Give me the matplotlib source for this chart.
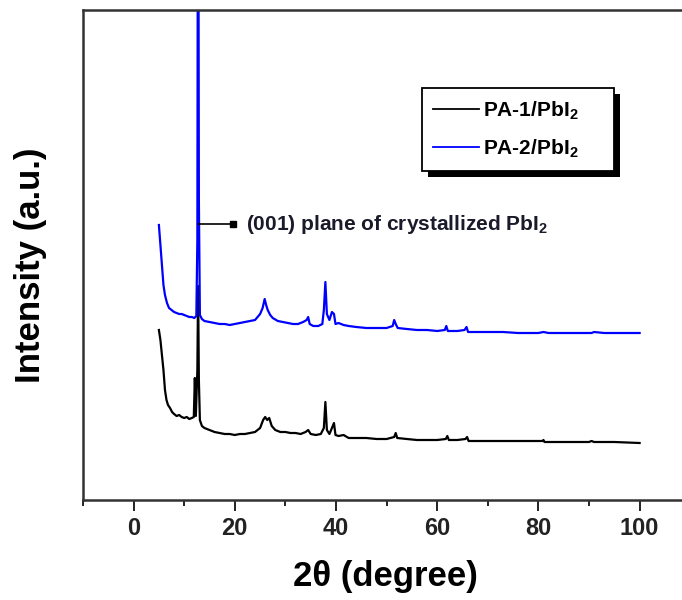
import matplotlib
matplotlib.use("Agg")
import matplotlib.pyplot as plt
from matplotlib.patches import Rectangle
from matplotlib.transforms import IdentityTransform
from matplotlib.ticker import MultipleLocator

plt.rcParams['font.family'] = ['Liberation Sans', 'DejaVu Sans']
plt.rcParams['font.weight'] = 'bold'
plt.rcParams['mathtext.fontset'] = 'custom'
plt.rcParams['mathtext.rm'] = 'Liberation Sans:bold'
plt.rcParams['mathtext.bf'] = 'Liberation Sans:bold'
plt.rcParams['mathtext.it'] = 'Liberation Sans:bold'

# XRD patterns (2-theta in degrees, intensity in arbitrary units, stacked)
tt_pa1 = [5.0, 5.3, 5.6, 5.9, 6.2, 6.5, 6.8, 7.2, 7.6, 8.0, 8.5, 9.0, 9.5, 10.0,
          10.5, 11.0, 11.5, 11.9, 12.1, 12.3, 12.6, 12.75, 12.9, 13.1, 13.5, 14.0,
          15.0, 16.0, 17.0, 18.0, 19.0, 20.0, 21.0, 22.0, 23.0, 24.0, 25.0, 25.6,
          26.0, 26.4, 26.8, 27.3, 28.0, 29.0, 30.0, 31.0, 32.0, 33.0, 34.0, 34.5,
          35.0, 36.0, 37.0, 37.6, 37.9, 38.2, 38.7, 39.2, 39.6, 39.9, 40.5, 41.5,
          42.5, 44.0, 46.0, 48.0, 50.0, 51.5, 51.8, 52.1, 54.0, 56.0, 58.0, 60.0,
          61.7, 62.0, 62.3, 64.0, 65.6, 65.9, 66.2, 68.0, 70.0, 72.0, 75.0, 78.0,
          80.8, 81.0, 81.2, 85.0, 90.0, 90.5, 91.0, 95.0, 100.0]
int_pa1 = [170, 160, 145, 130, 110, 100, 95, 92, 88, 86, 84, 85, 83, 82,
           83, 81, 82, 83, 122, 84, 130, 214, 120, 80, 74, 72,
           70, 68, 67, 66, 66, 65, 66, 66, 67, 68, 72, 80,
           83, 80, 82, 74, 70, 68, 68, 67, 67, 66, 68, 70,
           66, 65, 66, 72, 98, 70, 66, 72, 77, 65, 64, 65,
           62, 62, 62, 61, 61, 63, 67, 62, 61, 60, 60, 60,
           61, 64, 60, 60, 61, 63, 59, 59, 59, 59, 59, 59,
           59, 60, 58, 58, 58, 59, 58, 58, 57]

tt_pa2 = [5.0, 5.3, 5.6, 5.9, 6.2, 6.6, 7.0, 7.5, 8.0, 8.5, 9.0, 9.5, 10.0, 10.5,
          11.0, 11.5, 12.0, 12.4, 12.6, 12.75, 12.9, 13.1, 13.5, 14.0, 15.0, 16.0,
          17.0, 18.0, 19.0, 20.0, 21.0, 22.0, 23.0, 24.0, 25.0, 25.5, 25.9, 26.2,
          26.5, 27.0, 27.5, 28.5, 29.5, 30.5, 31.5, 32.5, 33.5, 34.2, 34.5, 34.8,
          35.5, 36.5, 37.3, 37.6, 37.9, 38.2, 38.7, 39.2, 39.6, 39.9, 40.5, 41.5,
          42.5, 44.0, 46.0, 48.0, 50.0, 51.2, 51.5, 51.8, 52.2, 54.0, 56.0, 58.0,
          60.0, 61.5, 61.8, 62.1, 64.0, 65.4, 65.8, 66.1, 68.0, 70.0, 73.0, 76.0,
          80.0, 81.0, 82.0, 85.0, 88.0, 90.5, 91.0, 93.0, 96.0, 100.0]
int_pa2 = [275, 255, 235, 215, 205, 197, 192, 190, 188, 187, 186, 186, 185, 184,
           183, 183, 182, 184, 260, 800, 300, 185, 181, 179, 178, 177,
           176, 176, 175, 176, 177, 178, 179, 180, 186, 192, 201, 195,
           190, 185, 182, 179, 178, 177, 176, 176, 178, 180, 183, 176,
           174, 174, 176, 190, 218, 186, 180, 188, 186, 176, 177, 175,
           174, 173, 172, 172, 172, 174, 180, 176, 172, 171, 170, 170,
           169, 170, 174, 169, 169, 170, 173, 168, 168, 168, 168, 167,
           167, 168, 167, 167, 167, 167, 168, 167, 167, 167]

series_labels = [r"PA-1/PbI$_{\mathbf{2}}$", r"PA-2/PbI$_{\mathbf{2}}$"]
series_colors = ["black", "#0000ff"]
x_ticks = [0, 20, 40, 60, 80, 100]
peak_note = r"(001) plane of crystallized PbI$_{\mathbf{2}}$"

W, H = 682, 600
fig = plt.figure(figsize=(W / 100, H / 100), dpi=100)
x_lo, x_hi = -10, 110
px_per_unit = 5.06
ax_w = (x_hi - x_lo) * px_per_unit / W
ax_wpx = ax_w * W
ax = fig.add_axes([83 / W, 100 / H, ax_w, 490 / H])

ax.plot(tt_pa1, int_pa1, color=series_colors[0], lw=1.6, label=series_labels[0])
ax.plot(tt_pa2, int_pa2, color=series_colors[1], lw=1.6, label=series_labels[1])

ax.set_xlim(x_lo, x_hi)
ax.set_ylim(0, 490)
ax.set_xticks(x_ticks)
ax.xaxis.set_minor_locator(MultipleLocator(10))
ax.set_yticks([])
ax.tick_params(axis='x', which='major', direction='out', length=8, width=1.4,
               labelsize=17, pad=4, colors='#222222')
ax.tick_params(axis='x', which='minor', direction='out', length=4, width=1.4,
               colors='#222222')
for lab in ax.get_xticklabels():
    lab.set_fontweight('bold')
for side in ['left', 'top', 'bottom']:
    ax.spines[side].set_linewidth(1.8)
    ax.spines[side].set_color('#333333')
ax.spines['right'].set_visible(False)

ax.set_xlabel(r"2θ (degree)", fontsize=25, fontweight='bold')
ax.xaxis.set_label_coords((385 - 83) / ax_wpx, -0.122)
ax.set_ylabel("Intensity (a.u.)", fontsize=25, fontweight='bold')
ax.yaxis.set_label_coords(-(83 - 47) / ax_wpx, 0.48)

# annotation of the (001) reflection
ax.annotate('', xy=(19.6, 276), xytext=(12.8, 276),
            arrowprops=dict(arrowstyle='-', lw=1.2, color='black',
                            shrinkA=0, shrinkB=0))
ax.plot([19.6], [276], marker='s', ms=4.5, color='black')
ax.text(22.2, 276, peak_note, fontsize=15, fontweight='bold',
        va='center', ha='left', color='#1a1a2a')

leg_x0 = (422 - 83) / ax_wpx
leg_w = 192 / ax_wpx
leg = ax.legend(loc='upper left',
                bbox_to_anchor=(leg_x0, (500 - 88) / 490, leg_w, 0.0),
                mode='expand', fontsize=15, frameon=True, fancybox=False,
                edgecolor='black', facecolor='white', framealpha=1.0,
                handlelength=2.2, handletextpad=0.2,
                labelspacing=0.75, borderpad=0.55, borderaxespad=0)
leg.get_frame().set_linewidth(1.3)
leg.set_zorder(6)
for t in leg.get_texts():
    t.set_fontweight('bold')
for h in leg.legend_handles:
    h.set_linewidth(1.3)

# drop shadow behind the legend box
fig.canvas.draw()
bb = leg.get_window_extent()
off = 6
shadow = Rectangle((bb.x0 + off, bb.y0 - off), bb.width, bb.height,
                   transform=IdentityTransform(), facecolor='black',
                   edgecolor='none', zorder=5.5, clip_on=False)
ax.add_artist(shadow)
fig.savefig("out.png", dpi=100)
